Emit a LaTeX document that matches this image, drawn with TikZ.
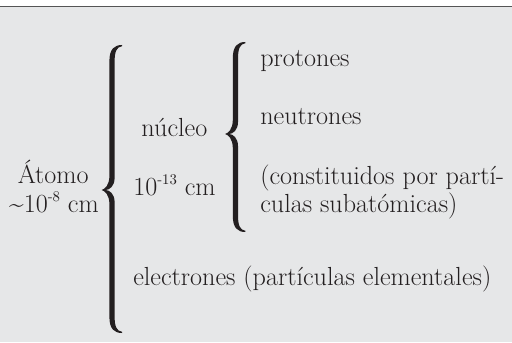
\documentclass[tikz,border=0pt]{standalone}
\usepackage{tikz}
\definecolor{panelgray}{RGB}{230,231,232}
\definecolor{rulegray}{RGB}{85,85,85}
\definecolor{inkcol}{RGB}{35,31,32}
\tikzstyle{entry} = [anchor=base west, inner sep=0pt, text=inkcol,
font=\fontsize{18.6}{22}\selectfont]
\tikzstyle{centred} = [entry, anchor=base]
% small raised exponent
\newcommand{\upnum}[1]{\raisebox{0.45em}{\fontsize{10.5}{11}\selectfont #1}}
% filled curly brace: tip x, top y, tip y, bottom y
\newcommand{\curlybrace}[4]{%
  \begin{scope}[shift={(#1,0)}]
    \fill[inkcol] (0.51,#2) .. controls (0.32,#2) and (0.195,{#2-0.1}) .. (0.195,{#2-0.4})
      -- (0.195,{#3+0.35}) .. controls (0.195,{#3+0.12}) and (0.08,{#3+0.02}) .. (0,#3)
      .. controls (0.08,{#3-0.02}) and (0.195,{#3-0.12}) .. (0.195,{#3-0.35})
      -- (0.195,{#4+0.4}) .. controls (0.195,{#4+0.1}) and (0.32,#4) .. (0.51,#4)
      -- (0.51,{#4+0.03}) .. controls (0.38,{#4+0.05}) and (0.325,{#4+0.15}) .. (0.325,{#4+0.42})
      -- (0.325,{#3-0.3}) .. controls (0.325,{#3-0.1}) and (0.2,#3) .. (0.1,#3)
      .. controls (0.2,#3) and (0.325,{#3+0.1}) .. (0.325,{#3+0.3})
      -- (0.325,{#2-0.42}) .. controls (0.325,{#2-0.15}) and (0.38,{#2-0.05}) .. (0.51,{#2-0.03})
      -- cycle;
  \end{scope}}

\begin{document}
\begin{tikzpicture}
  \useasboundingbox (0,0) rectangle (12.8,8.55);
  \fill[panelgray] (0,0) rectangle (12.8,8.39);
  \draw[rulegray, line width=0.04cm] (0,8.39) -- (12.8,8.39);

  % braces
  \curlybrace{2.54}{7.425}{3.8}{0.225}
  \curlybrace{5.625}{7.5}{5.2}{2.75}

  % left column
  \node (atomo) [centred] at (1.33,3.95) {Átomo};
  \node (atomosize) [centred] at (1.35,3.225) {\textasciitilde10\upnum{-8} cm};

  % middle column
  \node (nucleo) [centred] at (4.36,5.125) {núcleo};
  \node (nucleosize) [entry] at (3.325,3.65) {10\upnum{-13} cm};
  \node (electrones) [entry] at (3.325,1.425) {electrones (partículas elementales)};

  % right column
  \node (protones) [entry] at (6.5,6.875) {protones};
  \node (neutrones) [entry] at (6.5,5.425) {neutrones};
  \node (constit) [entry] at (6.5,3.925) {(constituidos por partí-};
  \node (culas) [entry] at (6.5,3.225) {culas subatómicas)};
\end{tikzpicture}
\end{document}
